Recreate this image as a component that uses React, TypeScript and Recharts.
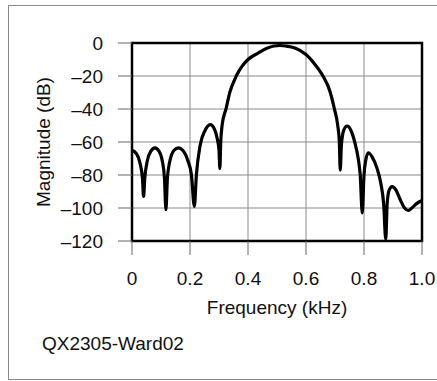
import { LineChart, Line, XAxis, YAxis, CartesianGrid, ReferenceArea } from "recharts";

// frequency (kHz) and magnitude (dB)
const FREQ = [
  0.0, 0.015, 0.028, 0.036, 0.04, 0.044, 0.052, 0.065, 0.079, 0.093, 0.105, 0.112, 0.117, 0.122, 0.13, 0.145,
  0.16, 0.175, 0.192, 0.205, 0.215, 0.222, 0.235, 0.252, 0.27, 0.285, 0.294, 0.3, 0.303, 0.306, 0.311,
  0.324, 0.338, 0.357, 0.367, 0.38, 0.4, 0.436, 0.465, 0.49, 0.51, 0.53, 0.562, 0.6, 0.631, 0.645, 0.66,
  0.683, 0.698, 0.709, 0.715, 0.718, 0.722, 0.73, 0.742, 0.755, 0.768, 0.78, 0.787, 0.794, 0.8, 0.806,
  0.815, 0.828, 0.845, 0.858, 0.868, 0.875, 0.88, 0.887, 0.897, 0.91, 0.925, 0.94, 0.953, 0.965, 0.98, 1.0,
];
const MAG = [
  -65, -67, -73, -82, -93, -82, -72, -65.5, -63.5, -65.5, -72, -82, -101, -82, -72, -65,
  -63.5, -65, -71, -80, -99, -80, -62, -53, -49.5, -52.5, -58, -65, -76, -60, -49.5,
  -40, -29.5, -21, -17.5, -14, -10, -6, -3.2, -1.8, -1.5, -1.8, -3, -7, -13, -16.3, -20.5,
  -29.5, -40, -49.5, -60, -77, -62, -53, -50.3, -53, -60, -70, -80, -103, -80, -71,
  -66.5, -69, -76, -85, -98, -119, -97, -89, -87, -89, -95, -100, -101.5, -100, -97.5, -95.5,
];
const X_TICKS = [0, 0.2, 0.4, 0.6, 0.8, 1.0];
const Y_TICKS = [0, -20, -40, -60, -80, -100, -120];

const data = FREQ.map((f, i) => ({ f, db: MAG[i] }));

const FONT = "'Liberation Sans', Arial, sans-serif";
const tickStyle = { fontSize: 19, fill: "#111", fontFamily: FONT };

export default function App() {
  return (
    <div style={{ position: "absolute", left: 0, top: 0, width: 437, height: 381, background: "#fff", overflow: "hidden" }}>
      {/* figure frame */}
      <div style={{ position: "absolute", left: 8, top: 5, width: 440, height: 373, border: "1px solid #8a8a8a" }} />

      <div style={{ position: "absolute", left: 0, top: 0 }}>
        <LineChart width={437} height={381} data={data} margin={{ top: 43, right: 15, bottom: 80, left: 0 }}>
          <CartesianGrid stroke="#8a8a8a" strokeWidth={1} />
          <XAxis
            dataKey="f"
            type="number"
            domain={[0, 1]}
            ticks={X_TICKS}
            interval={0}
            height={60}
            tickSize={14}
            tickMargin={17}
            axisLine={false}
            tickLine={{ stroke: "#666" }}
            tick={tickStyle}
            tickFormatter={(v: number) => (v === 0 ? "0" : v.toFixed(1))}
            label={{ value: "Frequency (kHz)", position: "bottom", offset: 0, style: { fontSize: 19, fill: "#111", fontFamily: FONT } }}
          />
          <YAxis
            type="number"
            domain={[-120, 0]}
            ticks={Y_TICKS}
            interval={0}
            width={132}
            tickSize={14}
            tickMargin={15}
            axisLine={false}
            tickLine={{ stroke: "#666" }}
            tick={tickStyle}
            tickFormatter={(v: number) => (v < 0 ? "\u2013" + Math.abs(v) : "0")}
            label={{ value: "Magnitude (dB)", angle: -90, position: "center", dx: -23, style: { fontSize: 19, fill: "#111", fontFamily: FONT } }}
          />
          <ReferenceArea x1={0} x2={1} y1={-120} y2={0} fill="none" stroke="#000" strokeWidth={2.5} ifOverflow="visible" />
          <Line
            type="monotone"
            dataKey="db"
            stroke="#000"
            strokeWidth={3.2}
            dot={false}
            activeDot={false}
            isAnimationActive={false}
          />
        </LineChart>
      </div>

      <div style={{ position: "absolute", left: 42, top: 334, fontSize: 19, lineHeight: "19px", fontFamily: FONT, color: "#111", whiteSpace: "nowrap" }}>
        QX2305-Ward02
      </div>
    </div>
  );
}
